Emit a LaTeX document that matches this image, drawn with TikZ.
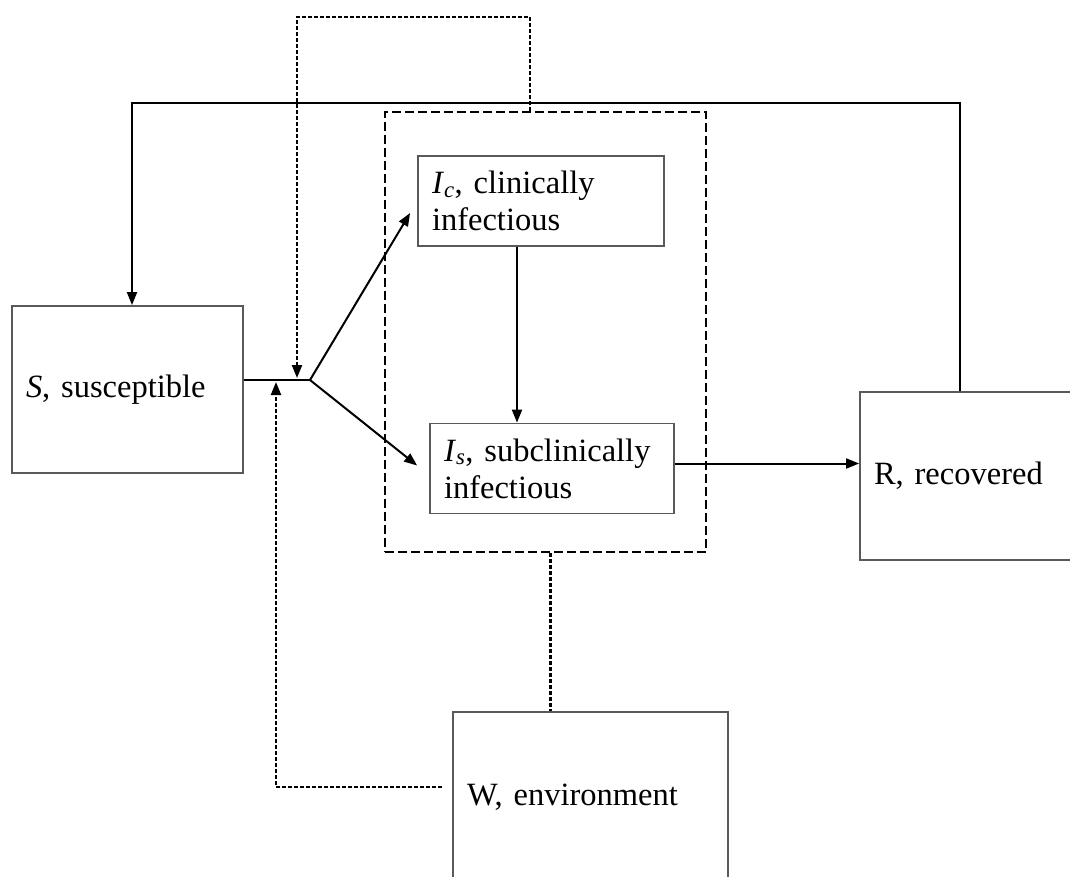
\documentclass[tikz,border=0pt]{standalone}
\usepackage{fontspec}
\setmainfont{Liberation Serif}
\usetikzlibrary{arrows.meta,positioning,calc}
\frenchspacing

\begin{document}
\begin{tikzpicture}[x=1pt,y=-1pt,font=\fontsize{32.5}{37}\selectfont,
  box/.style={draw=black!65,line width=1.8pt,align=left,inner xsep=14pt,inner ysep=0pt},
  grp/.style={draw,line width=2pt,dash pattern=on 9pt off 4pt,inner sep=0pt},
  arr/.style={-{Triangle[length=13pt,width=10pt]},line width=2pt},
  dots/.style={line width=2.2pt,dash pattern=on 4pt off 2pt},
  dotarr/.style={dots,-{Triangle[length=13pt,width=10pt]}}]
\useasboundingbox (0,0) rectangle (1070,876);
% compartments
\node[box,text width=203pt,minimum height=167pt] (S) at (127.5,389.5) {\textit{S}, susceptible};
\node[grp,minimum width=321pt,minimum height=440pt] (dbox) at (545.5,332) {};
\node[box,text width=218pt,minimum height=90pt] (Ic) at (541,201)
  {\textit{I}\textsubscript{\textit{c}}, clinically\\infectious};
\node[box,text width=216pt,minimum height=90pt] (Is) at (552,468.5)
  {\textit{I}\textsubscript{\textit{s}}, subclinically\\infectious};
\node[box,text width=202pt,minimum height=168pt] (R) at (975,476) {R, recovered};
\node[box,text width=247pt,minimum height=170pt] (W) at (590.5,797) {W, environment};
\coordinate (jn) at (310,380);
\coordinate (top) at (960,103);
\coordinate (ttop) at (297,17);
% infection
\draw[line width=2pt] (S.east |- jn) -- (jn);
\draw[arr] (jn) -- ($(Ic.west)+(-7,12)$);
\draw[arr] (jn) -- ($(Is.west)+(-12,-3)$);
\draw[arr] ([xshift=-24]Ic.south) -- ([xshift=-24]Ic.south |- Is.north);
\draw[arr] ([yshift=5]Is.east) -- ([yshift=5]Is.east -| R.west);
% loss of immunity
\draw[arr] (top |- R.north) -- (top) -| ([xshift=4.5]S.north);
% shedding and environment
\draw[dotarr] ([xshift=-15.5]dbox.north) |- (ttop) -- ($(ttop |- jn)+(0,-2)$);
\draw[dots] ([xshift=5]dbox.south) -- ([xshift=5]dbox.south |- W.north);
\draw[dotarr] ($(W.west)+(-10,-10)$) -| ($(jn)+(-34,2)$);
\end{tikzpicture}
\end{document}
